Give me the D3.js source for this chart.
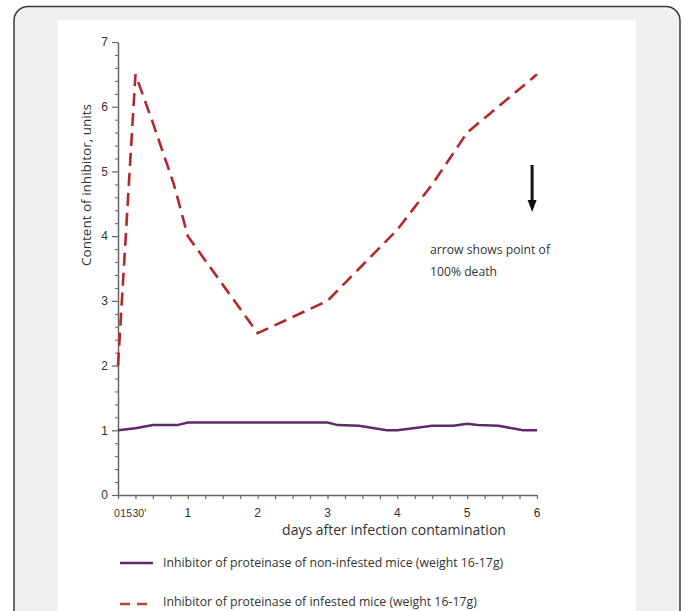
<!DOCTYPE html>
<html>
<head>
<meta charset="utf-8">
<script src="https://cdn.jsdelivr.net/npm/d3@7"></script>
<style>
  html, body { margin: 0; padding: 0; background: #ffffff; }
  svg { display: block; }
</style>
</head>
<body>
<svg id="chart" width="688" height="611"></svg>
<script>
// data
var purpleDays   = [0, 0.25, 0.5, 0.85, 1, 2, 3, 3.15, 3.45, 3.85, 4, 4.5, 4.8, 5, 5.15, 5.45, 5.8, 6];
var purpleValues = [1.0, 1.03, 1.08, 1.08, 1.12, 1.12, 1.12, 1.08, 1.07, 1.0, 1.0, 1.07, 1.07, 1.1, 1.08, 1.07, 1.0, 1.0];
var redDays      = [0, 0.25, 0.5, 0.8, 1, 1.5, 2, 2.5, 3, 3.5, 4, 4.5, 5, 5.5, 6];
var redValues    = [2.0, 6.5, 5.75, 4.8, 4.0, 3.25, 2.5, 2.75, 3.0, 3.55, 4.1, 4.8, 5.6, 6.05, 6.5];
var earlyTickLabels = ['0', '15', "30'"];   // 0, 15 min, 30 min squeezed at the origin
var xTickValues  = [1, 2, 3, 4, 5, 6];
var yTickValues  = [0, 1, 2, 3, 4, 5, 6, 7];
var legendLabels = ['Inhibitor of proteinase of non-infested mice (weight 16-17g)',
                    'Inhibitor of proteinase of infested mice (weight 16-17g)'];
var arrowDay = 5.93;
var noteLines = ['arrow shows point of', '100% death'];

var svg = d3.select('#chart');
var purple = '#5e2a6b';
var red = '#b3282b';
var axisColor = '#666';
var tickFont = '12px "Liberation Sans", Arial, sans-serif';

// frame + white panel
svg.append('rect')
    .attr('x', 14).attr('y', 6.5).attr('width', 666).attr('height', 640)
    .attr('rx', 14).attr('ry', 14)
    .attr('fill', '#eff0f2').attr('stroke', '#3a3a3a').attr('stroke-width', 1.5);
svg.append('rect')
    .attr('x', 58).attr('y', 20).attr('width', 578).attr('height', 600)
    .attr('fill', '#ffffff');

var x = d3.scaleLinear().domain([0, 6]).range([118, 537]);
var y = d3.scaleLinear().domain([0, 7]).range([495, 42]);

// y axis, minor ticks every 0.2
var yMinor = d3.range(0, 7.001, 0.2).filter(function(v) { return Math.abs(v - Math.round(v)) > 0.01; });
svg.append('g')
    .attr('transform', 'translate(' + x(0) + ',0)')
    .call(d3.axisLeft(y).tickValues(yMinor).tickSize(3).tickSizeOuter(0).tickFormat(''))
    .call(function(g) { g.select('.domain').remove(); g.selectAll('line').attr('stroke', axisColor); });
var yAxis = svg.append('g')
    .attr('transform', 'translate(' + x(0) + ',0)')
    .call(d3.axisLeft(y).tickValues(yTickValues).tickSize(6).tickSizeOuter(0).tickPadding(4).tickFormat(d3.format('d')));
yAxis.select('.domain').attr('stroke', axisColor).attr('stroke-width', 1.5);
yAxis.selectAll('line').attr('stroke', axisColor).attr('stroke-width', 1.2);
yAxis.selectAll('text').attr('fill', '#333').style('font', tickFont);

// x axis, ticks every quarter day
var xAxis = svg.append('g')
    .attr('transform', 'translate(0,' + y(0) + ')')
    .call(d3.axisBottom(x).tickValues(d3.range(0, 6.001, 0.25)).tickSize(4).tickSizeOuter(0).tickFormat(''));
xAxis.select('.domain').attr('stroke', axisColor).attr('stroke-width', 1.5);
xAxis.selectAll('line').attr('stroke', axisColor).attr('stroke-width', 1.2);

svg.append('g').selectAll('text')
    .data(xTickValues)
    .join('text')
    .attr('x', function(d) { return x(d); })
    .attr('y', y(0) + 22)
    .attr('text-anchor', 'middle')
    .attr('fill', '#333')
    .style('font', tickFont)
    .text(function(d) { return d; });

// the crowded 0 / 15 / 30' labels, laid out one after the other
var early = svg.append('text')
    .attr('x', x(0) - 4)
    .attr('y', y(0) + 22)
    .attr('fill', '#333')
    .style('font', '10.5px "Liberation Sans", Arial, sans-serif');
early.selectAll('tspan')
    .data(earlyTickLabels)
    .join('tspan')
    .attr('dx', function(d, i) { return i === 0 ? 0 : 0.5; })
    .text(function(d) { return d; });

// axis titles
svg.append('text')
    .attr('transform', 'translate(91,185) rotate(-90)')
    .attr('text-anchor', 'middle')
    .attr('fill', '#333')
    .style('font', '13.5px "Open Sans", sans-serif')
    .text('Content of inhibitor, units');
svg.append('text')
    .attr('x', 394).attr('y', 535)
    .attr('text-anchor', 'middle')
    .attr('fill', '#333')
    .style('font', '14px "Open Sans", sans-serif')
    .text('days after infection contamination');

// series
var line = d3.line()
    .x(function(d) { return x(d[0]); })
    .y(function(d) { return y(d[1]); });

svg.append('path')
    .datum(d3.zip(purpleDays, purpleValues))
    .attr('d', line)
    .attr('fill', 'none').attr('stroke', purple).attr('stroke-width', 2.5);

svg.append('path')
    .datum(d3.zip(redDays, redValues))
    .attr('d', line)
    .attr('fill', 'none').attr('stroke', red).attr('stroke-width', 2.6)
    .attr('stroke-dasharray', '13,7');

// arrow + note
var ax = x(arrowDay);
svg.append('line')
    .attr('x1', ax).attr('x2', ax).attr('y1', 165).attr('y2', 202)
    .attr('stroke', '#111').attr('stroke-width', 3);
svg.append('path')
    .attr('d', 'M' + (ax - 4.5) + ',200L' + (ax + 4.5) + ',200L' + ax + ',212Z')
    .attr('fill', '#111');

svg.append('g').selectAll('text')
    .data(noteLines)
    .join('text')
    .attr('x', 430)
    .attr('y', function(d, i) { return 254 + i * 22; })
    .attr('fill', '#333')
    .style('font', '12.2px "Open Sans", sans-serif')
    .text(function(d) { return d; });

// legend
var legend = svg.append('g');
legend.append('line')
    .attr('x1', 120).attr('x2', 153).attr('y1', 563).attr('y2', 563)
    .attr('stroke', purple).attr('stroke-width', 2.5);
legend.append('line')
    .attr('x1', 120).attr('x2', 153).attr('y1', 604).attr('y2', 604)
    .attr('stroke', '#b5453a').attr('stroke-width', 2.5)
    .attr('stroke-dasharray', '10,7');
legend.selectAll('text')
    .data(legendLabels)
    .join('text')
    .attr('x', 163)
    .attr('y', function(d, i) { return 567 + i * 39; })
    .attr('fill', '#333')
    .style('font', '12.3px "Open Sans", sans-serif')
    .text(function(d) { return d; });
</script>
</body>
</html>
